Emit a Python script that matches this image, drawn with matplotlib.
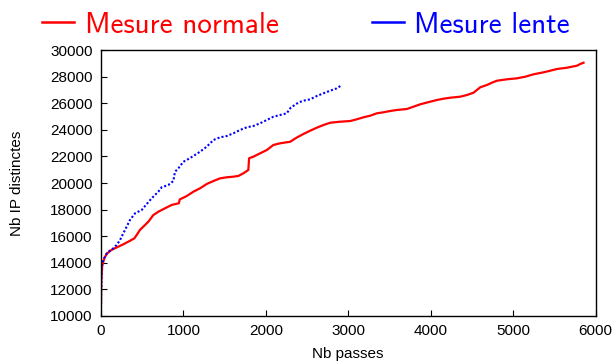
import matplotlib
matplotlib.use("Agg")
import matplotlib.pyplot as plt
from matplotlib.lines import Line2D

# Mesure normale
normal_x = [0, 2, 5, 10, 16, 40, 69, 109, 150, 210, 271, 332, 405, 433, 473, 514,
            575, 635, 696, 777, 858, 945, 955, 1040, 1121, 1202, 1283, 1364, 1445,
            1526, 1606, 1667, 1728, 1788, 1797, 1849, 1930, 2012, 2092, 2173, 2295,
            2376, 2456, 2537, 2619, 2699, 2780, 2901, 3023, 3104, 3184, 3266, 3347,
            3427, 3508, 3590, 3711, 3791, 3873, 3994, 4075, 4156, 4237, 4358, 4440,
            4520, 4561, 4601, 4682, 4743, 4804, 4925, 5047, 5147, 5248, 5370, 5451,
            5532, 5654, 5775, 5815, 5855]
normal_y = [11000, 12000, 12700, 13300, 13800, 14340, 14660, 14890, 15040, 15210,
            15390, 15590, 15840, 16090, 16470, 16720, 17090, 17590, 17840, 18100,
            18350, 18480, 18760, 19020, 19346, 19600, 19925, 20150, 20350, 20430,
            20475, 20530, 20730, 20980, 21860, 21980, 22230, 22480, 22860, 22985,
            23100, 23420, 23685, 23930, 24160, 24360, 24530, 24610, 24660, 24790,
            24940, 25060, 25240, 25316, 25414, 25490, 25564, 25737, 25917, 26113,
            26241, 26339, 26414, 26489, 26617, 26790, 26993, 27196, 27369, 27541,
            27692, 27797, 27872, 27992, 28173, 28323, 28444, 28572, 28670, 28820,
            28948, 29045]

# Mesure lente
slow_x = [0, 3, 8, 28, 69, 109, 150, 190, 231, 271, 312, 352, 413, 494, 555, 615,
          696, 737, 817, 878, 898, 939, 1000, 1040, 1121, 1202, 1283, 1364, 1445,
          1526, 1606, 1687, 1768, 1849, 1930, 2012, 2092, 2173, 2254, 2300, 2395,
          2456, 2537, 2619, 2699, 2780, 2861, 2910]
slow_y = [10600, 12000, 13700, 14210, 14710, 14910, 15090, 15340, 15710, 16220,
          16720, 17220, 17720, 17970, 18420, 18850, 19350, 19680, 19850, 20150,
          20850, 21106, 21600, 21730, 22030, 22354, 22731, 23233, 23436, 23534,
          23737, 23985, 24188, 24286, 24489, 24737, 24985, 25113, 25241, 25650,
          26050, 26189, 26290, 26542, 26745, 26940, 27119, 27316]

x_ticks = [0, 1000, 2000, 3000, 4000, 5000, 6000]
y_ticks = [10000, 12000, 14000, 16000, 18000, 20000, 22000, 24000, 26000, 28000, 30000]
series_labels = ["Mesure normale", "Mesure lente"]
RED, BLUE = "#ff0000", "#0000ff"

plt.rcParams["font.family"] = ["Liberation Sans", "DejaVu Sans"]

fig = plt.figure(figsize=(6.15, 3.64), dpi=100)
ax = fig.add_axes([0.1642, 0.1319, 0.8041, 0.7307])

ax.plot(normal_x, normal_y, color=RED, lw=1.6, solid_joinstyle="round")
ax.plot(slow_x, slow_y, color=BLUE, lw=1.5, linestyle=(0, (1, 1.0)))

ax.set_xlim(0, 6000)
ax.set_ylim(10000, 30000)
ax.set_xticks(x_ticks)
ax.set_yticks(y_ticks)
ax.tick_params(direction="in", length=4, width=0.8, labelsize=11, pad=6,
               top=False, right=False)
for s in ax.spines.values():
    s.set_linewidth(1.0)
ax.set_xlabel("Nb passes", fontsize=11, labelpad=6)
ax.set_ylabel("Nb IP distinctes", fontsize=11, labelpad=19)

handles = [Line2D([], [], color=RED, lw=1.8), Line2D([], [], color=BLUE, lw=1.8)]
leg = fig.legend(handles, series_labels, loc="upper left",
                 bbox_to_anchor=(0.026, 1.04), ncol=2, frameon=False,
                 prop={"family": "cmss10", "size": 21},
                 handlelength=1.1, handletextpad=0.35, columnspacing=3.2,
                 labelcolor=[RED, BLUE])

fig.savefig("out.png", dpi=100)
